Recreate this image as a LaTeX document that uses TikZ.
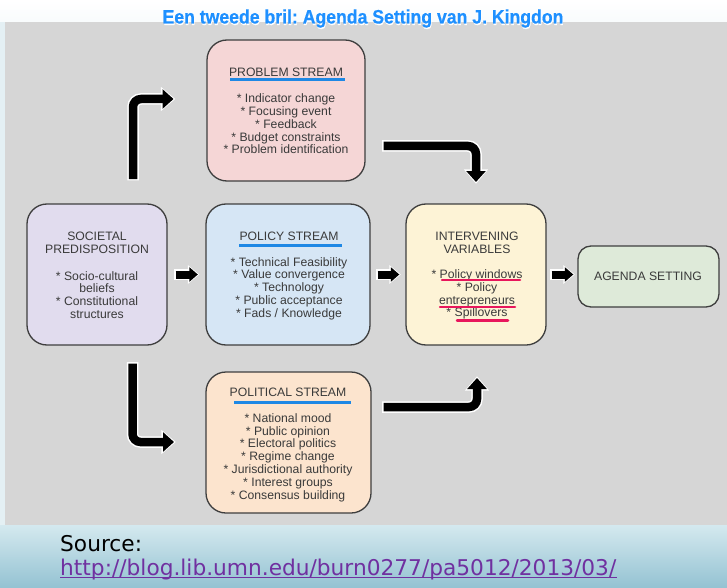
\documentclass[tikz,border=0pt]{standalone}
\usepackage{fontspec}
\setmainfont{Liberation Sans}
\newfontfamily\djv{DejaVu Sans}
\newfontfamily\titlef[FakeBold=0.5]{Liberation Sans}
\frenchspacing
\usetikzlibrary{arrows.meta,calc}
\definecolor{panel}{RGB}{214,214,214}
\definecolor{edge}{RGB}{62,62,62}
\definecolor{txtc}{RGB}{58,58,58}
\definecolor{cprob}{RGB}{245,214,214}
\definecolor{csoc}{RGB}{225,220,238}
\definecolor{cpol}{RGB}{214,230,245}
\definecolor{cintv}{RGB}{253,243,214}
\definecolor{cagenda}{RGB}{222,234,217}
\definecolor{cpolit}{RGB}{252,228,206}
\definecolor{ublue}{RGB}{30,136,229}
\definecolor{ured}{RGB}{232,22,92}
\definecolor{titleblue}{RGB}{30,144,255}
\definecolor{urlc}{RGB}{112,48,160}
\definecolor{bgtop}{RGB}{212,233,239}
\definecolor{bgbot}{RGB}{148,194,210}
\definecolor{lstrip}{RGB}{228,240,244}
\newcommand\kgArrow[3]{\draw[#1h] #3; \draw[#1k] #3;}
\tikzset{
  box/.style={draw=edge, line width=1.3pt, rounded corners=20pt, inner sep=0pt},
  txt/.style={font=\fontsize{12.2}{12.8}\selectfont, text=txtc, align=center, inner sep=0pt},
  fatk/.style={draw=black, line width=8.5pt, rounded corners=8pt, -{Triangle[width=19pt,length=11pt]}},
  fath/.style={draw=white, line width=11.5pt, rounded corners=8pt, -{Triangle[width=23.5pt,length=14.5pt]}, shorten >=-1.8pt, shorten <=-1.3pt},
  smk/.style={draw=black, line width=8pt, -{Triangle[width=14pt,length=8.5pt]}},
  smh/.style={draw=white, line width=10.5pt, -{Triangle[width=18pt,length=11.5pt]}, shorten >=-1.5pt, shorten <=-1.3pt},
  bline/.style={draw=ublue, line width=3pt},
  rline/.style={draw=ured, line width=2.5pt, line cap=round},
  ttl/.style={anchor=base, inner sep=0pt, font=\titlef\fontsize{18}{20}\selectfont\bfseries}
}
\begin{document}
\begin{tikzpicture}[x=1pt,y=-1pt]
\useasboundingbox (0,0) rectangle (727,588);
% background
\shade[top color=white, bottom color=white!85!bgtop] (0,0) rectangle (727,22);
\fill[lstrip] (0,22) rectangle (5,525);
\fill[panel] (5,22) rectangle (727,525);
\shade[top color=bgtop, bottom color=bgbot] (0,525) rectangle (727,588);
% title
\node[ttl, text=white] (titleS) at (363.6,25) {\scalebox{0.98}[1.08]{Een tweede bril: Agenda Setting van J. Kingdon}};
\node[ttl, text=titleblue] (title) at (363,23.5) {\scalebox{0.98}[1.08]{Een tweede bril: Agenda Setting van J. Kingdon}};

% boxes
\node[box, fill=cprob, minimum width=158pt, minimum height=141pt] (prob) at (286,110.5) {};
\node[box, fill=csoc, minimum width=140pt, minimum height=141pt] (soc) at (97,274.5) {};
\node[box, fill=cpol, minimum width=164pt, minimum height=141pt] (pol) at (288,274.5) {};
\node[box, fill=cintv, minimum width=140pt, minimum height=141pt] (intv) at (476,274.5) {};
\node[box, fill=cagenda, minimum width=141pt, minimum height=61pt, rounded corners=13pt] (agenda) at (648.5,276.5) {};
\node[box, fill=cpolit, minimum width=165pt, minimum height=141pt] (polit) at (288.5,442.5) {};

% problem stream text
\node[txt] (probT) at (286,72) {PROBLEM STREAM};
\draw[bline] (230,80) -- (345,80);
\node[txt] (probI) at (286,124) {* Indicator change\\* Focusing event\\* Feedback\\* Budget constraints\\* Problem identification};

% societal
\node[txt] (socT) at (97,243) {SOCIETAL\\PREDISPOSITION};
\node[txt] (socI) at (97,295) {* Socio-cultural\\beliefs\\* Constitutional\\structures};

% policy
\node[txt] (polT) at (289,236) {POLICY STREAM};
\draw[bline] (239,245) -- (342,245);
\node[txt] (polI) at (289,288.5) {* Technical Feasibility\\* Value convergence\\* Technology\\* Public acceptance\\* Fads / Knowledge};

% intervening
\node[txt] (intvT) at (477,243) {INTERVENING\\VARIABLES};
\node[txt] (intvI) at (477,294.5) {* Policy windows\\* Policy\\entrepreneurs\\* Spillovers};
\draw[rline] (442,280) -- (520,280);
\draw[rline] (440,307) -- (515,307);
\draw[rline] (457,320.5) -- (508,320.5);

% agenda
\node[txt] (agT) at (648,276.5) {AGENDA SETTING};

% political
\node[txt] (politT) at (288,392.5) {POLITICAL STREAM};
\draw[bline] (234,402.5) -- (351,402.5);
\node[txt] (politI) at (288,457.5) {* National mood\\* Public opinion\\* Electoral politics\\* Regime change\\* Jurisdictional authority\\* Interest groups\\* Consensus building};

% bent arrows
\coordinate (a1s) at (133,179);
\coordinate (a1e) at (173.5,99);
\coordinate (a2s) at (132.5,363.5);
\coordinate (a2e) at (174,442);
\coordinate (a3s) at (383.5,146);
\coordinate (a3e) at (476,182);
\coordinate (a4s) at (383.5,407);
\coordinate (a4e) at (477,378);
\kgArrow{fat}{}{(a1s) |- (a1e)}
\kgArrow{fat}{}{(a2s) |- (a2e)}
\kgArrow{fat}{}{(a3s) -| (a3e)}
\kgArrow{fat}{}{(a4s) -| (a4e)}

% small arrows
\coordinate (s1a) at ($(soc.east)+(8,0)$);
\coordinate (s1b) at ($(pol.west)+(-7.5,0)$);
\coordinate (s2a) at ($(pol.east)+(7,0)$);
\coordinate (s2b) at ($(intv.west)+(-6,0)$);
\coordinate (s3a) at ($(intv.east)+(5,0)$);
\coordinate (s3b) at ($(intv.east -| agenda.west)+(-4,0)$);
\kgArrow{sm}{}{(s1a) -- (s1b)}
\kgArrow{sm}{}{(s2a) -- (s2b)}
\kgArrow{sm}{}{(s3a) -- (s3b)}

% source
\node[anchor=base west, inner sep=0pt, font=\djv\fontsize{21.7}{24}\selectfont, text=black] (src) at (60,551.5) {Source:};
\node[anchor=base west, inner sep=0pt, font=\djv\fontsize{21.7}{24}\selectfont, text=urlc] (url) at (60,575) {http://blog.lib.umn.edu/burn0277/pa5012/2013/03/};
\draw[urlc, line width=1.1pt] ($(url.base west)+(0,2.8)$) -- ($(url.base east)+(0,2.8)$);
\end{tikzpicture}
\end{document}
